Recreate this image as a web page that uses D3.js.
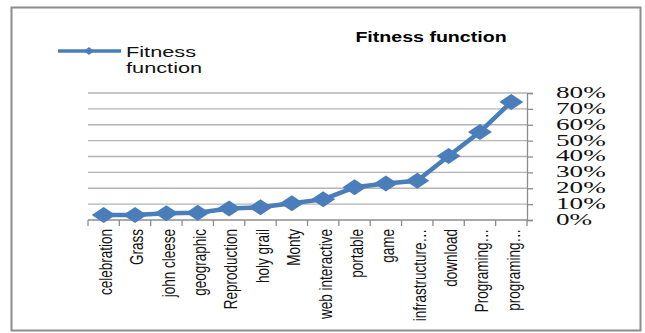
<!DOCTYPE html>
<html>
<head>
<meta charset="utf-8">
<script src="https://cdn.jsdelivr.net/npm/d3@7"></script>
<style>
  body { margin: 0; background: #fff; }
  svg { display: block; }
</style>
</head>
<body>
<svg width="645" height="333"></svg>
<script>
// chart data
let categories = ["celebration", "Grass", "john cleese", "geographic", "Reproduction", "holy grail",
  "Monty", "web interactive", "portable", "game", "infrastructure…", "download", "Programing…", "programing…"];
let fitness = [0.031, 0.031, 0.042, 0.046, 0.073, 0.08, 0.105, 0.13, 0.206, 0.23, 0.247, 0.403, 0.555, 0.744];
let yTicks = [0, 0.1, 0.2, 0.3, 0.4, 0.5, 0.6, 0.7, 0.8];

let svg = d3.select("svg");
let blue = "#4a7ebb";
let stretch = 1.45; // text in the picture is wide

// frame
svg.append("rect")
  .attr("x", 11.5).attr("y", 7.5)
  .attr("width", 629).attr("height", 323)
  .attr("fill", "#fff")
  .attr("stroke", "#8c8c8c")
  .attr("stroke-width", 2);

let plot = {left: 88, right: 527, top: 93, bottom: 220};

let x = d3.scaleBand().domain(categories).range([plot.left, plot.right]);
let y = d3.scaleLinear().domain([0, 0.8]).range([plot.bottom, plot.top]);

// gridlines
svg.append("g")
  .selectAll("line")
  .data(yTicks.slice(1))
  .enter().append("line")
    .attr("x1", plot.left).attr("x2", plot.right)
    .attr("y1", function(d) { return y(d); })
    .attr("y2", function(d) { return y(d); })
    .attr("stroke", "#b4b4b4")
    .attr("stroke-width", 1.3);

// right axis
let yAxis = svg.append("g")
  .attr("transform", "translate(" + plot.right + ",0)")
  .call(d3.axisRight(y).tickValues(yTicks).tickSize(6).tickFormat(""));
yAxis.select(".domain").attr("stroke", "#8c8c8c").attr("stroke-width", 1.3);
yAxis.selectAll(".tick line").attr("stroke", "#8c8c8c").attr("stroke-width", 1.3);

svg.append("g")
  .selectAll("text")
  .data(yTicks)
  .enter().append("text")
    .attr("transform", function(d) { return "translate(556," + (y(d) - 1) + ") scale(1.6,1)"; })
    .attr("dy", "0.35em")
    .attr("font-family", "Liberation Serif")
    .attr("font-size", 17)
    .attr("fill", "#111")
    .text(d3.format(".0%"));

// bottom axis
let xAxis = svg.append("g")
  .attr("transform", "translate(0," + plot.bottom + ")");
xAxis.append("line")
  .attr("x1", plot.left).attr("x2", plot.right)
  .attr("stroke", "#8c8c8c").attr("stroke-width", 1.3);
xAxis.selectAll(".tk")
  .data(categories.concat([null]))
  .enter().append("line")
    .attr("class", "tk")
    .attr("x1", function(d, i) { return i < categories.length ? x(d) : plot.right; })
    .attr("x2", function(d, i) { return i < categories.length ? x(d) : plot.right; })
    .attr("y1", 0).attr("y2", 6)
    .attr("stroke", "#8c8c8c").attr("stroke-width", 1.3);

xAxis.selectAll(".lbl")
  .data(categories)
  .enter().append("text")
    .attr("class", "lbl")
    .attr("transform", function(d) {
      return "translate(" + (x(d) + x.bandwidth() / 2 + 2) + ",9) scale(1.35,1) rotate(-90)";
    })
    .attr("dy", "0.35em")
    .attr("text-anchor", "end")
    .attr("font-family", "Liberation Sans")
    .attr("font-size", 13.5)
    .attr("fill", "#111")
    .text(function(d) { return d; });

// series
let line = d3.line()
  .x(function(d, i) { return x(categories[i]) + x.bandwidth() / 2; })
  .y(function(d) { return y(d); });

svg.append("path")
  .datum(fitness)
  .attr("d", line)
  .attr("fill", "none")
  .attr("stroke", blue)
  .attr("stroke-width", 4.5)
  .attr("stroke-linejoin", "round");

svg.selectAll(".mk")
  .data(fitness)
  .enter().append("path")
    .attr("class", "mk")
    .attr("transform", function(d, i) {
      return "translate(" + (x(categories[i]) + x.bandwidth() / 2) + "," + y(d) + ")";
    })
    .attr("d", "M0,-8L12,0L0,8L-12,0Z")
    .attr("fill", blue);

// title
svg.append("text")
  .attr("transform", "translate(431,42) scale(1.4,1)")
  .attr("text-anchor", "middle")
  .attr("font-family", "Liberation Sans")
  .attr("font-weight", "bold")
  .attr("font-size", 14)
  .attr("fill", "#000")
  .text("Fitness function");

// legend
let legend = svg.append("g");
legend.append("line")
  .attr("x1", 58).attr("x2", 121)
  .attr("y1", 51).attr("y2", 51)
  .attr("stroke", blue).attr("stroke-width", 3.5);
legend.append("path")
  .attr("transform", "translate(89,51)")
  .attr("d", "M0,-4L5,0L0,4L-5,0Z")
  .attr("fill", blue);
legend.selectAll("text")
  .data(["Fitness", "function"])
  .enter().append("text")
    .attr("transform", function(d, i) { return "translate(126," + (57 + i * 16) + ") scale(" + stretch + ",1)"; })
    .attr("font-family", "Liberation Sans")
    .attr("font-size", 15)
    .attr("fill", "#111")
    .text(function(d) { return d; });
</script>
</body>
</html>
